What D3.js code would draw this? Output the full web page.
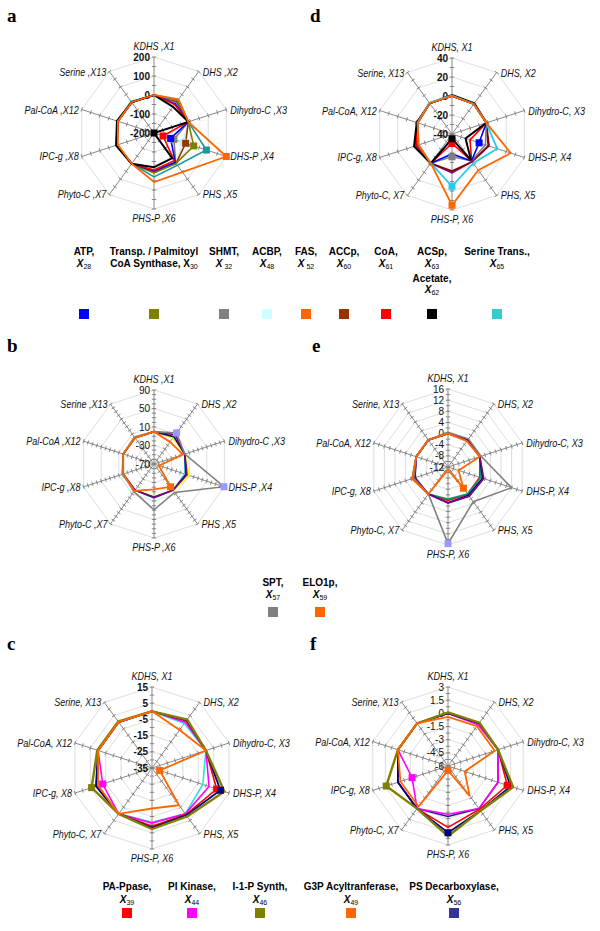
<!DOCTYPE html>
<html><head><meta charset="utf-8">
<script src="https://cdn.jsdelivr.net/npm/d3@7"></script>
<style>body{margin:0;background:#fff}svg{display:block}</style>
</head><body><svg id="chart" width="600" height="931"></svg>
<script>
// ---------- axis names ----------
const axesSpaced = ["KDHS ,X1","DHS ,X2","Dihydro-C ,X3","DHS-P ,X4","PHS ,X5","PHS-P ,X6","Phyto-C ,X7","IPC-g ,X8","Pal-CoA ,X12","Serine ,X13"];
const axesComma  = ["KDHS, X1","DHS, X2","Dihydro-C, X3","DHS-P, X4","PHS, X5","PHS-P, X6","Phyto-C, X7","IPC-g, X8","Pal-CoA, X12","Serine, X13"];

// ---------- tick labels ----------
const ticksA = [-200,-100,0,100,200];
const ticksB = [-70,-30,10,50,90];
const ticksC = [-35,-25,-15,-5,5,15];
const ticksD = [-40,-20,0,20,40];
const ticksE = [-12,-8,-4,0,4,8,12,16];
const ticksF = [-6,-4.5,-3,-1.5,0,1.5,3];

// ---------- panel a values (X1,X2,X3,X4,X5,X6,X7,X8,X12,X13) ----------
const aACBP   = [0, 5, -10, -40, -2, 8, 0, 5, 0, 0];
const aSHMT   = [0, 0, -10, -90, -5, 5, 0, 5, 0, 0];
const aACCp   = [0, 5, -10, -25, -2, 8, 0, 5, 0, 0];
const aTransp = [0, 10, -10, 20, -2, 10, 0, 5, 0, 0];
const aSerT   = [0, 15, -10, 90, 10, 31, 0, 5, 0, 5];
const aATP    = [0, -10, -10, -108, -10, 0, 0, 5, 0, 0];
const aCoA    = [0, -15, -10, -150, -20, -5, 0, 5, 0, 0];
const aACSp   = [0, -30, -10, -200, -37, -20, 0, 10, 5, 0];
const aFAS    = [0, 20, -10, 200, 54, 58, 0, 0, 0, 0];

// ---------- panel d values ----------
const dPurple = [0, -1, -2, 0, -4, 1, -2, -1, -2, 0];
const dACCp   = [0, -1, -2, 1, -4, -1, -2, -1, -2, 0];
const dSHMT   = [0, -1, -2, -3, -5, -16, -2, 0, -2, 0];
const dATP    = [0, -1, -2, -10, -5, -19, -2, 0, -2, 0];
const dCoA    = [0, -1, -2, -20, -5, -30, -2, 0, -2, 0];
const dACSp   = [1, 0, -2, -25, -6, -35, -2, 2, -1, 0];
const dCyan   = [0.5, -1, -2, 10, -2, 15, -2, -3, -2, 0.5];
const dFAS    = [0, -1, -2, 25, 7, 35, -2, -3, -2, 0];

// ---------- panel b values ----------
const bCyan   = [0, 0, 0, 0, 0, 4, 0, 3, 0, 0];
const bYellow = [0, 0, 0, 10, 1, 1, 0, 0, 0, 0];
const bNavy   = [0, 3, 0, 3, 0, 2, 0, 0, 0, 0];
const bPurple = [0, 8, 0, 5, 0, 2, 0, 0, 0, 0];
const bSPT    = [0, 13, 0, 89, 6, 29, 4, 0, 0, 2];
const bELO    = [0, -11, -4, -59, -9, -15, 2, 0, 0, 0];

// ---------- panel e values ----------
const eRed    = [0, 0, 0, 0, 0, 0, 0, 1.5, 0, 0];
const eGreen  = [0, 0, 0, 0.3, 0, -0.5, 0, 1.5, 0, 0];
const eNavy   = [0, 0, 0, 1, 0.5, 0.8, 0, 0.5, 0, 0];
const ePurple = [0, 0, 0, 1.5, 1, 1, 0, 0.5, 0, 0];
const eSPT    = [0.5, 0.5, 0.5, 12, 3.4, 15.5, 0, 1, 0, 0];
const eELO    = [0, -0.5, 0, -8, -2.6, -11, 0, 1.5, 0, 0];

// ---------- panel c values ----------
const cCyan   = [0, -1, 0, -2, 0, -1.5, 0, 0, 0, 0];
const cPIK    = [0, 0, 0, 2, 0, -1, 0, -3, 0, 0];
const cPAP    = [0, 1, 0, 7, 0.5, 1, 0, 1, 0, 0];
const cPSD    = [0, 1.5, 0, 9.4, 1, 2, 0, 1.4, 0, 0];
const cI1P    = [0, 2, 0, 12, 2, 2.7, 0, 4.2, 0.5, 0.5];
const cG3P    = [0, -6, 0, -30, -6.6, -10, 0, 0, 0, 0];

// ---------- panel f values ----------
const fDark   = [0, 0, 0, 0, 0, -0.25, 0, 0, 0, 0];
const fPIK    = [0, -0.2, 0, 0, 0, -0.5, 0, -1.7, 0, 0];
const fPAP    = [0.1, 0, 0, 1.1, 0.1, 1.0, 0, 0, 0, 0];
const fPSD    = [0, 0.05, 0, 1.5, 0.3, 1.6, 0, 0, 0, 0];
const fI1P    = [0.1, 0.1, 0, 1.8, 0.3, 2.0, 0, 1.4, 0, 0];
const fG3P    = [-0.4, -0.4, -0.4, -4.0, -1.8, -5.5, -0.3, -0.3, 0, 0];

// ---------- legends ----------
const legendA = [
  {l1:"ATP,", l2:"X|28", c:"#0000ff", x:84},
  {l1:"Transp. / Palmitoyl", l2:"CoA Synthase, X|30|n", c:"#808000", x:154},
  {l1:"SHMT,", l2:"X| 32", c:"#808080", x:224},
  {l1:"ACBP,", l2:"X|48", c:"#ccffff", x:267},
  {l1:"FAS,", l2:"X| 52", c:"#ff6600", x:306},
  {l1:"ACCp,", l2:"X|60", c:"#993300", x:344},
  {l1:"CoA,", l2:"X|61", c:"#ff0000", x:386},
  {l1:"ACSp,", l2:"X|63", l3:"Acetate,", l4:"X|62", c:"#000000", x:432},
  {l1:"Serine Trans.,", l2:"X|65", c:"#33cccc", x:497}
];
const legendB = [
  {l1:"SPT,", l2:"X|57", c:"#808080", x:273},
  {l1:"ELO1p,", l2:"X|59", c:"#ff6600", x:320}
];
const legendC = [
  {l1:"PA-Ppase,", l2:"X|39", c:"#ff0000", x:127},
  {l1:"PI Kinase,", l2:"X|44", c:"#ff00ff", x:192},
  {l1:"I-1-P Synth,", l2:"X|46", c:"#808000", x:260},
  {l1:"G3P Acyltranferase,", l2:"X|49", c:"#ff6600", x:351},
  {l1:"PS Decarboxylase,", l2:"X|56", c:"#333399", x:454}
];

// ---------- panel layout ----------
const panels = [
  {letter:"a", lx:7, ly:22, cx:154, cy:133, R:76, ticks:ticksA, minor:2, bold:true, names:axesSpaced,
   series:[
    {v:aACBP, c:"#bff5f5", w:1.5, m:3},
    {v:aSHMT, c:"#808080", w:1.6, m:3},
    {v:aACCp, c:"#993300", w:1.6, m:3},
    {v:aTransp, c:"#808000", w:1.6, m:3},
    {v:aSerT, c:"#1a9999", w:1.6, m:3},
    {v:aATP, c:"#0000ff", w:1.6, m:3},
    {v:aCoA, c:"#ff0000", w:1.6, m:3},
    {v:aACSp, c:"#000000", w:2, m:3},
    {v:aFAS, c:"#ff6600", w:1.8, m:3}]},
  {letter:"d", lx:310, ly:22, cx:452, cy:134, R:76, ticks:ticksD, minor:2, bold:true, names:axesComma,
   series:[
    {v:dPurple, c:"#800080", w:1.6, m:-1},
    {v:dACCp, c:"#800000", w:1.6, m:-1},
    {v:dSHMT, c:"#808080", w:1.6, m:5},
    {v:dATP, c:"#0000ff", w:1.6, m:3},
    {v:dCoA, c:"#ff0000", w:1.6, m:5},
    {v:dACSp, c:"#000000", w:2, m:5},
    {v:dCyan, c:"#22ccee", w:1.8, m:5},
    {v:dFAS, c:"#ff6600", w:1.8, m:5}]},
  {letter:"b", lx:7, ly:352, cx:154, cy:464, R:74, ticks:ticksB, minor:4, bold:false, names:axesSpaced,
   series:[
    {v:bCyan, c:"#33cccc", w:1.6, m:-1},
    {v:bYellow, c:"#ffff00", w:1.8, m:-1},
    {v:bNavy, c:"#000080", w:1.6, m:-1},
    {v:bPurple, c:"#800080", w:1.6, m:-1},
    {v:bSPT, c:"#808080", w:1.6, m:[1,3], mc:"#9999ff"},
    {v:bELO, c:"#ff6600", w:1.8, m:4}]},
  {letter:"e", lx:312, ly:352, cx:448, cy:467, R:78, ticks:ticksE, minor:2, bold:false, names:axesComma,
   series:[
    {v:eRed, c:"#ff0000", w:1.6, m:-1},
    {v:eGreen, c:"#009966", w:1.6, m:-1},
    {v:eNavy, c:"#000080", w:1.6, m:-1},
    {v:ePurple, c:"#800080", w:1.6, m:-1},
    {v:eSPT, c:"#808080", w:1.6, m:5, mc:"#9999ff"},
    {v:eELO, c:"#ff6600", w:1.8, m:4}]},
  {letter:"c", lx:7, ly:650, cx:152, cy:768, R:81, ticks:ticksC, minor:2, bold:true, names:axesComma,
   series:[
    {v:cCyan, c:"#33dddd", w:1.6, m:-1},
    {v:cPIK, c:"#ff00ff", w:1.6, m:7},
    {v:cPAP, c:"#ff0000", w:1.6, m:3},
    {v:cPSD, c:"#000080", w:1.8, m:3},
    {v:cI1P, c:"#808000", w:2.4, m:7},
    {v:cG3P, c:"#ff6600", w:1.8, m:3}]},
  {letter:"f", lx:310, ly:650, cx:448, cy:766, R:79, ticks:ticksF, minor:2, bold:false, names:axesComma,
   series:[
    {v:fDark, c:"#1a1a80", w:1.6, m:-1},
    {v:fPIK, c:"#ff00ff", w:1.6, m:7},
    {v:fPAP, c:"#ff0000", w:1.6, m:3},
    {v:fPSD, c:"#000080", w:1.8, m:5},
    {v:fI1P, c:"#808000", w:2.4, m:7},
    {v:fG3P, c:"#ff6600", w:1.8, m:5}]}
];

const svg = d3.select("#chart");
svg.append("rect").attr("width",600).attr("height",931).attr("fill","#fff");
const N = 10;
const ang = i => i * 2 * Math.PI / N;
const SANS = "'Liberation Sans', Arial, sans-serif";

panels.forEach(p => {
  svg.append("text").attr("x", p.lx).attr("y", p.ly)
    .attr("font-family","'Liberation Serif', 'DejaVu Serif', serif")
    .attr("font-weight","bold").attr("font-size",19).text(p.letter);

  const g = svg.append("g").attr("transform", `translate(${p.cx},${p.cy})`);
  const lo = p.ticks[0], hi = p.ticks[p.ticks.length-1];
  const r = d3.scaleLinear().domain([lo, hi]).range([0, p.R]).clamp(true);
  const pt = (i, rad) => [rad * Math.sin(ang(i)), -rad * Math.cos(ang(i))];

  // grid polygons
  p.ticks.slice(1).forEach(t => {
    g.append("polygon")
      .attr("points", d3.range(N).map(i => pt(i, r(t)).join(",")).join(" "))
      .attr("fill","none").attr("stroke","#d6d6d6").attr("stroke-width",0.8);
  });
  // axes
  d3.range(N).forEach(i => {
    const e = pt(i, p.R);
    g.append("line").attr("x1",0).attr("y1",0).attr("x2",e[0]).attr("y2",e[1])
      .attr("stroke","#7a7a7a").attr("stroke-width",0.9);
  });
  // minor ticks
  const step = (p.ticks[1]-p.ticks[0]) / p.minor;
  const tickVals = d3.range(lo + step, hi + step/2, step);
  d3.range(N).forEach(i => {
    const a = ang(i);
    const px = Math.cos(a), py = Math.sin(a);
    tickVals.forEach(v => {
      const c = pt(i, r(v));
      g.append("line").attr("x1", c[0]-px*2.2).attr("y1", c[1]-py*2.2)
        .attr("x2", c[0]+px*2.2).attr("y2", c[1]+py*2.2)
        .attr("stroke","#7a7a7a").attr("stroke-width",0.9);
    });
  });
  // tick labels
  p.ticks.forEach(t => {
    g.append("text").attr("x",-4).attr("y",-r(t)+3.6)
      .attr("text-anchor","end").attr("font-family",SANS)
      .attr("font-size",10).attr("font-weight", p.bold ? "bold" : "normal")
      .attr("fill","#111").text(t);
  });
  // axis names (slightly condensed italic)
  p.names.forEach((n, i) => {
    const e = pt(i, p.R);
    const s = Math.sin(ang(i));
    let x = e[0], y = e[1], anchor = "middle";
    if (Math.abs(s) < 0.1) { y = e[1] < 0 ? e[1] - 7 : e[1] + 13; }
    else if (s > 0) { anchor = "start"; x = e[0] + 4; y = e[1] + 4; }
    else { anchor = "end"; x = e[0] - 3; y = e[1] + 4; }
    g.append("g").attr("transform", `translate(${x},${y}) scale(0.86,1)`)
      .append("text").attr("text-anchor",anchor)
      .attr("font-family",SANS).attr("font-style","italic")
      .attr("font-size",10.5).attr("fill","#111").text(n);
  });
  // series
  const line = d3.lineRadial().angle((d,i) => ang(i)).radius(d => r(d)).curve(d3.curveLinearClosed);
  p.series.forEach(s => {
    g.append("path").attr("d", line(s.v)).attr("fill","none")
      .attr("stroke", s.c).attr("stroke-width", s.w).attr("stroke-linejoin","miter");
  });
  p.series.forEach(s => {
    const ms = Array.isArray(s.m) ? s.m : (s.m >= 0 ? [s.m] : []);
    ms.forEach(mi => {
      const c = pt(mi, r(s.v[mi]));
      g.append("rect").attr("x", c[0]-3.5).attr("y", c[1]-3.5).attr("width",7).attr("height",7)
        .attr("fill", s.mc || s.c);
    });
  });
});

// ---------- legends ----------
function writeSub(sel, spec) {
  const parts = spec.split("|");
  const plain = parts[2] === "n";
  const base = parts[0];
  const pre = base.slice(0, -1), X = base.slice(-1);
  if (pre) sel.append("tspan").text(pre);
  sel.append("tspan").attr("font-style", plain ? "normal" : "italic").text(X);
  sel.append("tspan").attr("font-size", 7).attr("dy", 2).attr("font-weight","normal").text(parts[1]);
}
function drawLegend(items, y1, y2, ys, y3, y4) {
  items.forEach(it => {
    svg.append("text").attr("x", it.x).attr("y", y1).attr("text-anchor","middle")
      .attr("font-family",SANS).attr("font-weight","bold").attr("font-size",10)
      .text(it.l1);
    const t2 = svg.append("text").attr("x", it.x).attr("y", y2).attr("text-anchor","middle")
      .attr("font-family",SANS).attr("font-weight","bold").attr("font-size",10);
    writeSub(t2, it.l2);
    if (it.l3) {
      svg.append("text").attr("x", it.x).attr("y", y3).attr("text-anchor","middle")
        .attr("font-family",SANS).attr("font-weight","bold").attr("font-size",10)
        .text(it.l3);
      const t4 = svg.append("text").attr("x", it.x).attr("y", y4).attr("text-anchor","middle")
        .attr("font-family",SANS).attr("font-weight","bold").attr("font-size",10);
      writeSub(t4, it.l4);
    }
    svg.append("rect").attr("x", it.x-5).attr("y", ys-5).attr("width",10).attr("height",10).attr("fill", it.c);
  });
}
drawLegend(legendA, 255, 267, 314, 282, 293);
drawLegend(legendB, 586, 598, 612);
drawLegend(legendC, 890, 903, 913);
</script></body></html>
